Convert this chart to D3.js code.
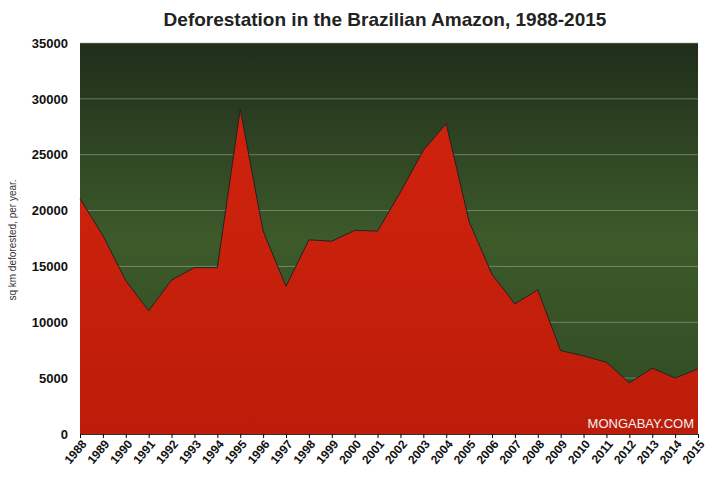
<!DOCTYPE html>
<html><head><meta charset="utf-8">
<script src="https://cdn.jsdelivr.net/npm/d3@7"></script>
<style>body{margin:0;background:#fff}</style>
</head><body><svg id="c"></svg>
<script>
const years = [1988,1989,1990,1991,1992,1993,1994,1995,1996,1997,1998,1999,2000,2001,2002,2003,2004,2005,2006,2007,2008,2009,2010,2011,2012,2013,2014,2015];
const loss = [21050,17770,13730,11030,13786,14896,14896,29059,18161,13227,17383,17259,18226,18165,21651,25396,27772,19014,14286,11651,12911,7464,7000,6418,4571,5891,5012,5831];
const yTicks = [0,5000,10000,15000,20000,25000,30000,35000];

const width = 720, height = 488;
const margin = {top: 43, right: 22, bottom: 54, left: 80};
const svg = d3.select("#c").attr("width", width).attr("height", height);

const x = d3.scaleLinear().domain([1988, 2015]).range([margin.left, width - margin.right]);
const y = d3.scaleLinear().domain([0, 35000]).range([height - margin.bottom, margin.top]);

// forest-like background
const defs = svg.append("defs");
const bg = defs.append("linearGradient").attr("id", "bg").attr("x1", 0).attr("y1", 0).attr("x2", 0).attr("y2", 1);
bg.append("stop").attr("offset", "0%").attr("stop-color", "#1f2d1a");
bg.append("stop").attr("offset", "50%").attr("stop-color", "#3d5a2a");
bg.append("stop").attr("offset", "100%").attr("stop-color", "#2f4a22");
const fill = defs.append("linearGradient").attr("id", "fl").attr("x1", 0).attr("y1", 0).attr("x2", 0).attr("y2", 1);
fill.append("stop").attr("offset", "0%").attr("stop-color", "#d8200c");
fill.append("stop").attr("offset", "100%").attr("stop-color", "#c41a08");

svg.append("rect").attr("x", margin.left).attr("y", margin.top)
  .attr("width", width - margin.left - margin.right).attr("height", height - margin.top - margin.bottom)
  .attr("fill", "url(#bg)");

svg.append("g").selectAll("line").data(yTicks.slice(1)).join("line")
  .attr("x1", margin.left).attr("x2", width - margin.right)
  .attr("y1", d => y(d)).attr("y2", d => y(d))
  .attr("stroke", "#9aa894").attr("stroke-opacity", 0.6);

const pts = years.map((yr, i) => ({yr, v: loss[i]}));
svg.append("path").datum(pts)
  .attr("d", d3.area().x(d => x(d.yr)).y0(y(0)).y1(d => y(d.v)))
  .attr("fill", "url(#fl)").attr("fill-opacity", 0.95);
svg.append("path").datum(pts)
  .attr("d", d3.line().x(d => x(d.yr)).y(d => y(d.v)))
  .attr("fill", "none").attr("stroke", "#222").attr("stroke-width", 1);

svg.append("g").attr("transform", `translate(${margin.left},0)`)
  .call(d3.axisLeft(y).tickValues(yTicks).tickFormat(d3.format("d")).tickSize(0).tickPadding(12))
  .call(g => g.select(".domain").remove())
  .selectAll("text").attr("font-family", "Arial, Liberation Sans").attr("font-size", 13).attr("font-weight", "bold").attr("fill", "#111");

const xa = svg.append("g").attr("transform", `translate(0,${height - margin.bottom})`)
  .call(d3.axisBottom(x).tickValues(years).tickFormat(d3.format("d")).tickSize(4));
xa.select(".domain").attr("stroke", "#333");
xa.selectAll("text").attr("font-family", "Arial, Liberation Sans").attr("font-size", 12).attr("font-weight", "bold").attr("fill", "#111")
  .attr("text-anchor", "end").attr("transform", "rotate(-50)").attr("dx", "-0.3em").attr("dy", "0.4em");

svg.append("text").attr("x", 385).attr("y", 26).attr("text-anchor", "middle")
  .attr("font-family", "Arial, Liberation Sans").attr("font-size", 19).attr("font-weight", "bold").attr("fill", "#222")
  .text("Deforestation in the Brazilian Amazon, 1988-2015");

svg.append("text").attr("transform", "translate(16,240) rotate(-90)").attr("text-anchor", "middle")
  .attr("font-family", "Arial, Liberation Sans").attr("font-size", 10).attr("fill", "#333")
  .text("sq km deforested, per year.");

svg.append("text").attr("x", 694).attr("y", 428).attr("text-anchor", "end")
  .attr("font-family", "Arial, Liberation Sans").attr("font-size", 13).attr("fill", "#f2f2f2")
  .text("MONGABAY.COM");
</script></body></html>
